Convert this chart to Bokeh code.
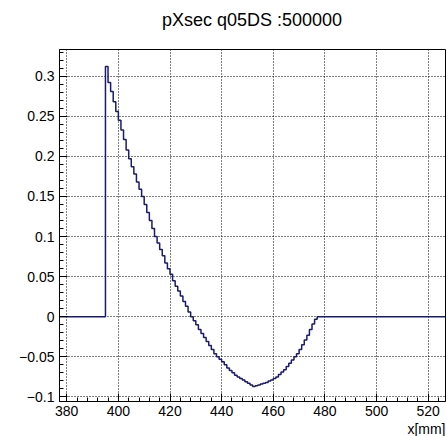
from bokeh.plotting import figure
from bokeh.models import Range1d, FixedTicker, Title, Div
from bokeh.layouts import column
from bokeh.embed import file_html
from bokeh.resources import INLINE

# histogram: 1 mm bins from 377 to 527
bin_lo = 377
bin_hi = 527
signal_start = 395
signal_values = [
    0.312, 0.292, 0.281, 0.268, 0.256, 0.245, 0.233, 0.221, 0.208, 0.197,
    0.187, 0.178, 0.168, 0.159, 0.150, 0.140, 0.130, 0.120, 0.110, 0.100,
    0.092, 0.084, 0.076, 0.067, 0.060, 0.053, 0.045, 0.038, 0.032, 0.026,
    0.019, 0.013, 0.006, 0.000, -0.005, -0.010, -0.016, -0.021, -0.026, -0.031,
    -0.036, -0.041, -0.046, -0.050, -0.053, -0.056, -0.060, -0.064, -0.067, -0.070,
    -0.073, -0.075, -0.077, -0.079, -0.081, -0.083, -0.085, -0.087, -0.086, -0.085,
    -0.084, -0.083, -0.082, -0.080, -0.079, -0.077, -0.075, -0.072, -0.069, -0.066,
    -0.062, -0.058, -0.054, -0.050, -0.046, -0.041, -0.035, -0.029, -0.023, -0.016,
    -0.009, -0.003, 0.000,
]

x_ticks = [380, 400, 420, 440, 460, 480, 500, 520]
x_labels = ["380", "400", "420", "440", "460", "480", "500", "520"]
y_ticks = [-0.1, -0.05, 0.0, 0.05, 0.1, 0.15, 0.2, 0.25, 0.3]
y_labels = ["\u22120.1", "\u22120.05", "0", "0.05", "0.1", "0.15", "0.2", "0.25", "0.3"]
title_text = "pXsec q05DS :500000"
x_title = "x[mm]"

# build bin edges / contents
edges = list(range(bin_lo, bin_hi + 1))
contents = [0.0] * (bin_hi - bin_lo)
for i, v in enumerate(signal_values):
    contents[signal_start - bin_lo + i] = v
step_y = contents + [contents[-1]]

x0, x1 = 377.2, 526.7
y0, y1 = -0.1057, 0.3333

head = Div(text=title_text, width=446, height=40, margin=(0, 0, 0, 0),
           styles={"font-family": "Liberation Sans", "font-size": "18px",
                   "color": "black", "text-align": "center", "line-height": "40px",
                   "padding-left": "58px", "box-sizing": "border-box",
                   "width": "446px", "height": "40px"})

p = figure(width=446, height=396, output_backend="svg", toolbar_location=None,
           x_range=Range1d(x0, x1), y_range=Range1d(y0, y1), title=None,
           margin=(0, 0, 0, 0))
p.min_border_left = 59
p.min_border_right = 1
p.min_border_top = 9
p.min_border_bottom = 35
p.background_fill_color = "white"
p.border_fill_color = "white"
p.outline_line_color = "black"
p.outline_line_width = 1

p.step(x=edges, y=step_y, mode="after", line_color="#1a1a6e", line_width=1.5)

x_minor = [v for v in range(377, 527) if v % 4 == 0]
y_minor = [round(-0.1 + 0.01 * k, 2) for k in range(0, 44)]
p.xaxis.ticker = FixedTicker(ticks=x_ticks, minor_ticks=x_minor)
p.yaxis.ticker = FixedTicker(ticks=y_ticks, minor_ticks=y_minor)
p.xaxis.major_label_overrides = {t: l for t, l in zip(x_ticks, x_labels)}
p.yaxis.major_label_overrides = {t: l for t, l in zip(y_ticks, y_labels)}

for ax in (p.xaxis[0], p.yaxis[0]):
    ax.major_tick_in = 8
    ax.major_tick_out = 0
    ax.minor_tick_in = 4
    ax.minor_tick_out = 0
    ax.axis_line_color = "black"
    ax.major_tick_line_color = "black"
    ax.minor_tick_line_color = "black"
    ax.major_label_text_font = "Liberation Sans"
    ax.major_label_text_font_size = "14px"
    ax.major_label_text_color = "black"
p.xaxis.major_label_standoff = 4
p.yaxis.major_label_standoff = 5

for g in (p.xgrid[0], p.ygrid[0]):
    g.grid_line_color = "black"
    g.grid_line_dash = "1 2"
    g.grid_line_width = 1
p.xgrid.ticker = FixedTicker(ticks=x_ticks)
p.ygrid.ticker = FixedTicker(ticks=y_ticks)

xt = Title(text=x_title, align="right", text_font="Liberation Sans",
           text_font_size="14px", text_font_style="normal", text_color="black",
           offset=0, standoff=0)
p.add_layout(xt, "below")

layout = column(head, p, spacing=0, margin=(0, 0, 0, 0))
open("out.html", "w").write(file_html(layout, INLINE))
